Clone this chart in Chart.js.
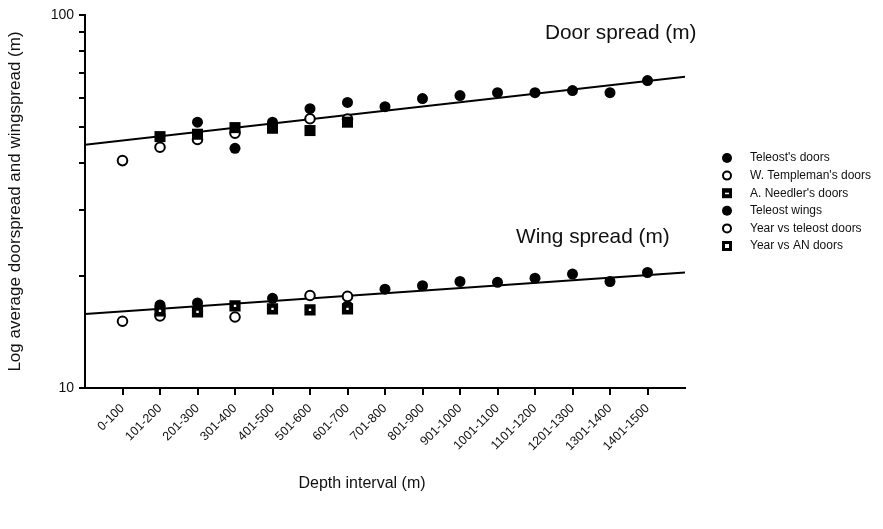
<!DOCTYPE html>
<html><head><meta charset="utf-8">
<script src="https://cdn.jsdelivr.net/npm/chart.js@4.4.1/dist/chart.umd.min.js"></script>
<style>html,body{margin:0;padding:0;background:#fff;}#wrap{width:883px;height:529px;position:relative;}</style>
</head><body><div id="wrap"><canvas id="c" width="883" height="529"></canvas></div>
<script>
// ---- data ----
const categories = ['0-100','101-200','201-300','301-400','401-500','501-600','601-700','701-800','801-900','901-1000','1001-1100','1101-1200','1201-1300','1301-1400','1401-1500'];
const teleostDoors     = [null, null, 51.6, 43.9, 51.6, 56.1, 58.3, 56.8, 59.7, 60.8, 61.9, 61.9, 62.7, 61.9, 66.7];
const templemanDoors   = [40.7, 44.2, 46.4, 48.2, null, 52.7, 52.6, null, null, null, null, null, null, null, null];
const needlerDoors     = [null, 47.2, 47.9, 49.9, 49.7, 49.0, 51.6, null, null, null, null, null, null, null, null];
const teleostWings     = [null, 16.7, 16.9, null, 17.4, null, 16.6, 18.4, 18.8, 19.3, 19.2, 19.7, 20.2, 19.3, 20.4];
const yearTeleostDoors = [15.1, 15.6, null, 15.5, null, 17.7, 17.6, null, null, null, null, null, null, null, null];
const yearANDoors      = [null, 16.1, 16.0, 16.6, 16.3, 16.2, 16.3, null, null, null, null, null, null, null, null];
const fitX        = [0, 16];
const doorFit     = [44.9, 68.3];
const wingFit     = [15.8, 20.4];
const yTicks      = [10, 20, 30, 40, 50, 60, 70, 80, 90, 100];
const yTickLabels = [10, 100];
const doorLabel = 'Door spread (m)';
const wingLabel = 'Wing spread (m)';

const FONT = "'Liberation Sans', Arial, sans-serif";
const toPts = arr => arr.map((v, i) => v == null ? null : {x: i + 1, y: v}).filter(Boolean);
const fitPts = arr => arr.map((v, i) => ({x: fitX[i], y: v}));

const filled = (label, data) => ({label, data: toPts(data), pointStyle: 'circle', pointRadius: 5.5,
  backgroundColor: '#000', borderColor: '#000', borderWidth: 0, showLine: false});
const open = (label, data) => ({label, data: toPts(data), pointStyle: 'circle', pointRadius: 4.8,
  backgroundColor: '#fff', borderColor: '#000', borderWidth: 2, showLine: false});
const sqFilled = (label, data) => ({label, data: toPts(data), pointStyle: 'rect', pointRadius: 7.8,
  backgroundColor: '#000', borderColor: '#000', borderWidth: 0, showLine: false});
const sqOpen = (label, data) => ({label, data: toPts(data), pointStyle: 'rect', pointRadius: 4.8,
  backgroundColor: '#fff', borderColor: '#000', borderWidth: 4.4, showLine: false});

const dsTeleostDoors = filled("Teleost's doors", teleostDoors);
const dsTempleman    = open("W. Templeman's doors", templemanDoors);
const dsNeedler      = sqFilled("A. Needler's doors", needlerDoors);
const dsTeleostWings = filled('Teleost wings', teleostWings);
const dsYearTeleost  = open('Year vs teleost doors', yearTeleostDoors);
const dsYearAN       = sqOpen('Year vs AN doors', yearANDoors);
const legendItems = [dsTeleostDoors, dsTempleman, dsNeedler, dsTeleostWings, dsYearTeleost, dsYearAN];

const lineDs = (label, data) => ({label, data: fitPts(data), showLine: true, pointRadius: 0,
  borderColor: '#000', borderWidth: 2, backgroundColor: '#000', fill: false});

const textPlugin = {
  id: 'texts',
  afterDraw(chart) {
    const ctx = chart.ctx;
    ctx.save();
    ctx.fillStyle = '#111';
    ctx.textBaseline = 'middle';
    ctx.textAlign = 'left';
    ctx.font = '20.8px ' + FONT;
    ctx.fillText(doorLabel, 545, 33);
    ctx.fillText(wingLabel, 516, 237);
    ctx.textAlign = 'center';
    ctx.font = '16px ' + FONT;
    ctx.fillText('Depth interval (m)', 362, 484);
    // legend
    ctx.font = '12px ' + FONT;
    ctx.textAlign = 'left';
    legendItems.forEach((d, i) => {
      const y = 158 + i * 17.6;
      const x = 727;
      ctx.fillStyle = '#000';
      ctx.strokeStyle = '#000';
      if (d.pointStyle === 'circle') {
        ctx.beginPath();
        if (d.backgroundColor === '#000') {
          ctx.arc(x, y, 5, 0, Math.PI * 2); ctx.fill();
        } else {
          ctx.lineWidth = 2; ctx.arc(x, y, 4, 0, Math.PI * 2);
          ctx.fillStyle = '#fff'; ctx.fill(); ctx.stroke();
        }
      } else {
        if (d.backgroundColor === '#000') {
          ctx.fillRect(x - 5, y - 5, 10, 10);
          ctx.fillStyle = '#fff'; ctx.fillRect(x - 2, y - 0.5, 4, 1.5);
        } else {
          ctx.fillRect(x - 5, y - 5, 10, 10);
          ctx.fillStyle = '#fff'; ctx.fillRect(x - 2, y - 2, 4, 4);
        }
      }
      ctx.fillStyle = '#111';
      ctx.fillText(d.label, 750, y);
    });
    ctx.restore();
  }
};

new Chart(document.getElementById('c'), {
  type: 'scatter',
  data: {
    datasets: [
      dsNeedler, dsYearAN, dsTempleman, dsYearTeleost, dsTeleostDoors, dsTeleostWings,
      lineDs('Door spread fit', doorFit),
      lineDs('Wing spread fit', wingFit)
    ]
  },
  options: {
    responsive: false,
    devicePixelRatio: 1,
    animation: false,
    events: [],
    layout: {padding: {left: 0, right: 198, top: 15, bottom: 0}},
    plugins: {legend: {display: false}, tooltip: {enabled: false}},
    scales: {
      x: {
        type: 'linear', min: 0, max: 16,
        afterFit: s => { s.height = 141; },
        afterBuildTicks: s => { s.ticks = s.ticks.filter(t => t.value >= 1 && t.value <= categories.length); },
        ticks: {
          stepSize: 1, autoSkip: false, minRotation: 45, maxRotation: 45, padding: 6,
          color: '#111', font: {family: FONT, size: 12.5},
          callback: v => categories[v - 1] || ''
        },
        grid: {drawOnChartArea: false, drawTicks: true, tickLength: 7, color: '#000', lineWidth: 2},
        border: {display: true, color: '#000', width: 2}
      },
      y: {
        type: 'logarithmic', min: 10, max: 100,
        afterFit: s => { s.width = 85; },
        afterBuildTicks: s => { s.ticks = yTicks.map(v => ({value: v, major: yTickLabels.includes(v)})); },
        ticks: {
          autoSkip: false, padding: 5, color: '#111', font: {family: FONT, size: 14},
          callback: v => yTickLabels.includes(v) ? String(v) : ''
        },
        grid: {drawOnChartArea: false, drawTicks: true, tickLength: 6, color: '#000', lineWidth: 2},
        border: {display: true, color: '#000', width: 2},
        title: {display: true, text: 'Log average doorspread and wingspread (m)', color: '#111',
          font: {family: FONT, size: 17}, padding: {top: 5, bottom: 0}}
      }
    }
  },
  plugins: [textPlugin]
});
</script></body></html>
